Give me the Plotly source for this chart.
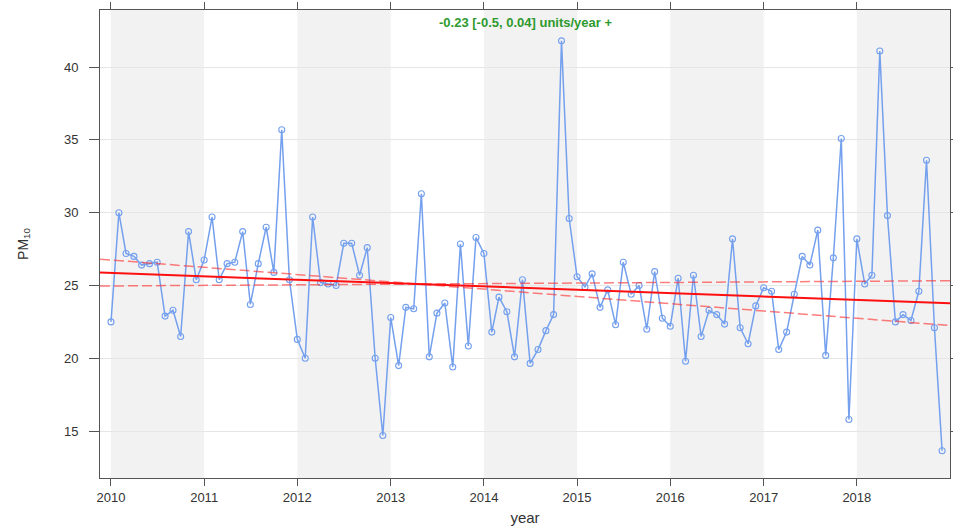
import pandas as pd
import plotly.graph_objects as go

# ---- data (monthly mean PM10, Jan 2010 - Dec 2018) ----
pm10_2010 = [22.5, 30.0, 27.2, 27.0, 26.4, 26.5, 26.6, 22.9, 23.3, 21.5, 28.7, 25.4]
pm10_2011 = [26.75, 29.7, 25.4, 26.5, 26.6, 28.7, 23.7, 26.5, 29.0, 25.9, 35.7, 25.4]
pm10_2012 = [21.3, 20.0, 29.7, 25.2, 25.1, 25.0, 27.9, 27.9, 25.7, 27.6, 20.0, 14.7]
pm10_2013 = [22.8, 19.5, 23.5, 23.4, 31.3, 20.1, 23.1, 23.8, 19.4, 27.85, 20.85, 28.3]
pm10_2014 = [27.2, 21.8, 24.2, 23.2, 20.1, 25.4, 19.65, 20.6, 21.9, 23.0, 41.8, 29.6]
pm10_2015 = [25.6, 24.9, 25.8, 23.5, 24.7, 22.3, 26.6, 24.4, 25.0, 22.0, 25.95, 22.75]
pm10_2016 = [22.2, 25.5, 19.8, 25.7, 21.5, 23.3, 23.0, 22.35, 28.2, 22.1, 21.0, 23.6]
pm10_2017 = [24.85, 24.6, 20.6, 21.8, 24.4, 27.0, 26.4, 28.8, 20.2, 26.9, 35.1, 15.8]
pm10_2018 = [28.2, 25.1, 25.7, 41.1, 29.8, 22.5, 23.0, 22.6, 24.6, 33.6, 22.1, 13.65]

pm10 = (pm10_2010 + pm10_2011 + pm10_2012 + pm10_2013 + pm10_2014 +
        pm10_2015 + pm10_2016 + pm10_2017 + pm10_2018)
dates = pd.date_range("2010-01-01", periods=len(pm10), freq="MS")

year_ticks = [2010, 2011, 2012, 2013, 2014, 2015, 2016, 2017, 2018]
shaded_years = [2010, 2012, 2014, 2016, 2018]
y_ticks = [15, 20, 25, 30, 35, 40]

# Theil-Sen trend estimate and its confidence bounds (units/year)
slope = -0.23
slope_lower = -0.5
slope_upper = 0.04
pivot_year = 2013.3
pivot_value = 25.1
trend_label = "-0.23 [-0.5, 0.04] units/year +"

x_start = pd.Timestamp("2009-11-19")
x_end = pd.Timestamp("2019-01-01")


def dec_year(ts):
    start = pd.Timestamp(year=ts.year, month=1, day=1)
    nxt = pd.Timestamp(year=ts.year + 1, month=1, day=1)
    return ts.year + (ts - start) / (nxt - start)


ends = [x_start, x_end]


def line_vals(s):
    return [pivot_value + s * (dec_year(t) - pivot_year) for t in ends]


fig = go.Figure()

fig.add_trace(go.Scatter(
    x=dates, y=pm10, mode="lines+markers",
    line=dict(color="#74A0EE", width=1.5),
    marker=dict(symbol="circle-open", size=6, color="#74A0EE", line=dict(width=1.1)),
    showlegend=False, hoverinfo="skip"))

for s in (slope_lower, slope_upper):
    fig.add_trace(go.Scatter(
        x=ends, y=line_vals(s), mode="lines",
        line=dict(color="rgba(255,40,40,0.6)", width=1.5, dash="10px,4px"),
        showlegend=False, hoverinfo="skip"))

fig.add_trace(go.Scatter(
    x=ends, y=line_vals(slope), mode="lines",
    line=dict(color="#FF1010", width=2),
    showlegend=False, hoverinfo="skip"))

for yr in shaded_years:
    fig.add_shape(type="rect", xref="x", yref="paper",
                  x0=f"{yr}-01-01", x1=f"{yr + 1}-01-01", y0=0, y1=1,
                  fillcolor="#F2F2F2", line=dict(width=0), layer="below")

fig.add_annotation(
    text=f"<b>{trend_label}</b>", xref="paper", yref="paper",
    x=0.5, y=1, yanchor="top", yshift=-3, showarrow=False,
    font=dict(family="Liberation Sans, Arial, sans-serif", size=13, color="#2E9A2E"))

axis_font = dict(family="Liberation Sans, Arial, sans-serif", size=13, color="#333333")

fig.update_xaxes(
    type="date", range=[x_start, x_end],
    tickvals=[f"{y}-01-01" for y in year_ticks], ticktext=[str(y) for y in year_ticks],
    ticks="outside", ticklen=7, tickcolor="#555555",
    showline=True, linecolor="#555555", linewidth=1, mirror="ticks",
    showgrid=False, zeroline=False, tickfont=axis_font,
    title=dict(text="year", font=dict(family="Liberation Sans, Arial, sans-serif",
                                       size=15, color="#333333"), standoff=8))

fig.update_yaxes(
    range=[11.78, 43.92], tickvals=y_ticks,
    ticks="outside", ticklen=10, tickcolor="#555555", ticklabelstandoff=8,
    showline=True, linecolor="#555555", linewidth=1, mirror="ticks",
    showgrid=True, gridcolor="#E6E6E6", gridwidth=1, zeroline=False, tickfont=axis_font,
    title=dict(text="PM<sub>10</sub>", font=dict(family="Liberation Sans, Arial, sans-serif",
                                                 size=14, color="#333333"), standoff=32))

fig.update_layout(
    width=953, height=529,
    margin=dict(l=100, r=3, t=10, b=51, autoexpand=False),
    plot_bgcolor="white", paper_bgcolor="white",
    showlegend=False)

fig.write_html("out.html", config={"displayModeBar": False},
               post_script="document.body.style.margin='0px';document.body.style.overflow='hidden';")
